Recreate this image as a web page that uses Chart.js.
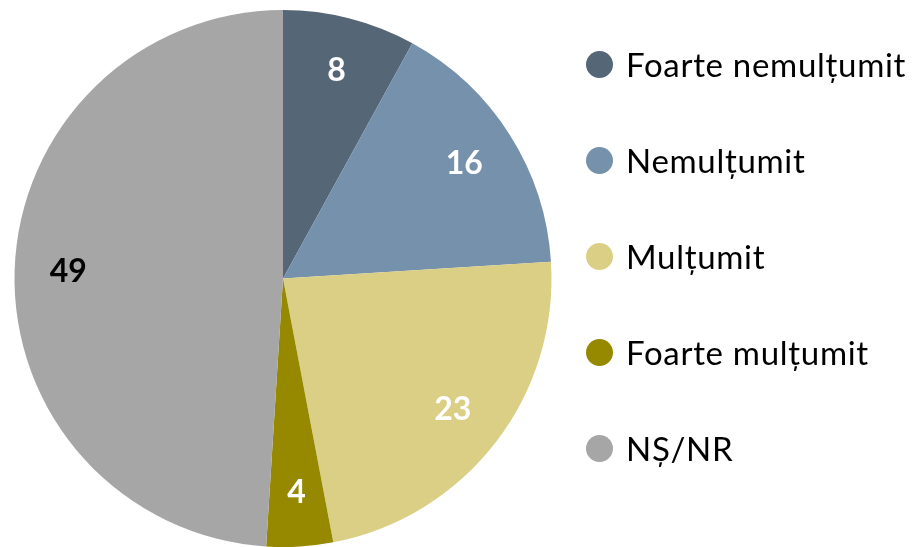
<!DOCTYPE html>
<html>
<head>
<meta charset="utf-8">
<script src="https://cdn.jsdelivr.net/npm/chart.js@4/dist/chart.umd.min.js"></script>
<style>
  html, body { margin: 0; padding: 0; background: #fff; }
  #wrap { position: relative; width: 916px; height: 547px; }
  #legend { position: absolute; left: 586px; top: 16px; font-family: Lato, "Open Sans", sans-serif; font-size: 33px; letter-spacing: 0.7px; color: #000; }
  #legend .row { height: 96px; display: flex; align-items: center; white-space: nowrap; }
  #legend .dot { width: 27px; height: 27px; border-radius: 50%; margin-right: 13px; flex: none; }
</style>
</head>
<body>
<div id="wrap">
  <canvas id="pie" width="916" height="547"></canvas>
  <div id="legend"></div>
</div>
<script>
const labels = ["Foarte nemulțumit", "Nemulțumit", "Mulțumit", "Foarte mulțumit", "NȘ/NR"];
const values = [8, 16, 23, 4, 49];
const colors = ["#556677", "#7591AB", "#DBCF86", "#968900", "#A6A6A6"];
const labelColors = ["#fff", "#fff", "#fff", "#fff", "#000"];

// value labels inside the slices
const sliceLabels = {
  id: "sliceLabels",
  afterDatasetsDraw(chart) {
    const ctx = chart.ctx;
    const meta = chart.getDatasetMeta(0);
    ctx.save();
    ctx.font = "bold 32px Lato, 'Open Sans', sans-serif";
    ctx.textAlign = "center";
    ctx.textBaseline = "middle";
    meta.data.forEach((arc, i) => {
      const p = arc.getProps(["x", "y", "startAngle", "endAngle", "outerRadius"], true);
      const a = (p.startAngle + p.endAngle) / 2;
      const r = p.outerRadius * 0.8;
      ctx.fillStyle = labelColors[i];
      ctx.fillText(String(values[i]), p.x + Math.cos(a) * r, p.y + Math.sin(a) * r);
    });
    ctx.restore();
  }
};

const chart = new Chart(document.getElementById("pie"), {
  type: "pie",
  data: {
    labels: labels,
    datasets: [{
      data: values,
      backgroundColor: colors,
      borderWidth: 0
    }]
  },
  options: {
    responsive: false,
    animation: false,
    layout: { padding: { left: 14, right: 364, top: 10, bottom: 0 } },
    plugins: {
      legend: { display: false },
      tooltip: { enabled: false }
    }
  },
  plugins: [sliceLabels]
});

// legend built from the chart's own labels and colours
const legendEl = document.getElementById("legend");
chart.data.labels.forEach((text, i) => {
  const row = document.createElement("div");
  row.className = "row";
  row.innerHTML = `<span class="dot" style="background:${colors[i]}"></span><span>${text}</span>`;
  legendEl.appendChild(row);
});
</script>
</body>
</html>
